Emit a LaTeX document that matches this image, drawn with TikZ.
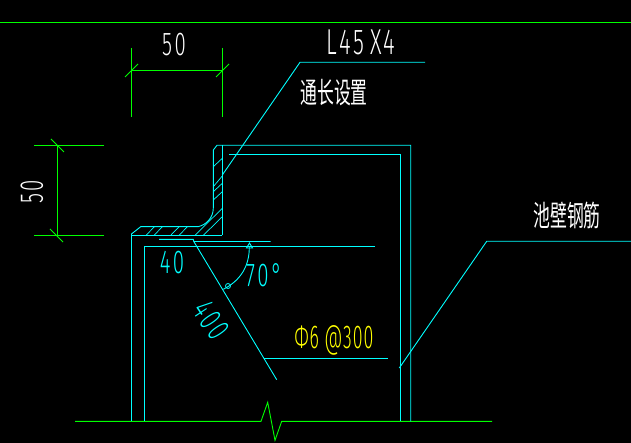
\documentclass[tikz,border=0pt]{standalone}
\usepackage{fontspec}
\setmainfont[FakeStretch=0.62,LetterSpace=8]{Fira Sans Light}
\newfontfamily\cadnarrow[FakeStretch=0.54,LetterSpace=3]{Fira Sans Light}
\newfontfamily\cjk[FakeStretch=0.58]{Noto Sans CJK SC}

\definecolor{cadcyan}{RGB}{0,255,255}
\definecolor{cadgreen}{RGB}{0,255,0}
\definecolor{cadyellow}{RGB}{255,255,0}

\tikzstyle{c} = [draw=cadcyan, line width=0.9pt]
\tikzstyle{g} = [draw=cadgreen, line width=0.9pt]
\tikzstyle{lbl} = [inner sep=0pt, font=\fontsize{33}{33}\selectfont]
\tikzstyle{zh} = [inner sep=0pt, text=white, font=\cjk\fontsize{29}{29}\selectfont]

\begin{document}
\begin{tikzpicture}[x=1pt,y=-1pt]
\fill[black] (0,0) rectangle (631,443);
\useasboundingbox (0,0) rectangle (631,443);

% green lines
\draw[g] (0,22) -- (631,22);
\draw[g] (75,421.3) -- (261,421.3) -- (267.7,402.3) -- (275,440.3) -- (281.7,421.3) -- (492,421.3);

% dimension top
\draw[g] (131.5,48) -- (131.5,117);
\draw[g] (222.3,48) -- (222.3,117);
\draw[g] (131.5,70) -- (222.3,70);
\draw[g] (125,77) -- (138,64);
\draw[g] (216,77) -- (229,64);
\node[lbl, text=white] (dimtop) at (174,45) {50};

% dimension left
\draw[g] (34,145.3) -- (104,145.3);
\draw[g] (34,235.3) -- (104,235.3);
\draw[g] (57.3,145.3) -- (57.3,235.3);
\draw[g] (51,139) -- (64,152);
\draw[g] (50,229) -- (63,242);
\node[lbl, text=white, rotate=90] (dimleft) at (32,192) {50};

% angle section
\draw[c] (222.3,235.3) -- (131.5,235.3) -- (131.5,421.3);
\draw[c] (131.5,235.3) -- (131.5,234) -- (140.7,226.7) -- (198,226.7)
  .. controls (206,225) and (213.3,218) .. (213.3,208) -- (213.3,150) -- (217,145.3) -- (410.7,145.3) -- (410.7,421.3);
\draw[c] (222.3,145.3) -- (222.3,235.3);
\foreach \x in {146,154,170.7,179}
  \draw[c, line width=0.7pt] (\x,235.3) -- ++(8.5,-8.6);
\foreach \y/\d in {166.7/8.4,186.7/10.7,191.7/8.4,200/8.3}
  \draw[c, line width=0.7pt] (213.3,\y) -- ++(9,-\d);
\draw[c, line width=0.7pt] (195,235.3) -- (222.3,208.3);
\draw[c, line width=0.7pt] (203.3,235.3) -- (222.3,216.7);

% inner bars
\draw[c] (229,154.3) -- (400.4,154.3) -- (400.4,421.3);
\draw[c] (375,246.3) -- (144.7,246.3) -- (144.7,421.3);
\draw[c] (159,239.4) -- (193.3,239.4) -- (193.8,241.5) -- (270.7,241.5);
\coordinate (bartop) at (193.8,241.5);
\coordinate (barend) at (276.7,379.7);
\coordinate (barhook) at (264,358.3);
\draw[c] (bartop) -- (barend);
\draw[c] (barhook) -- (387.7,358.3);

% angle mark
\coordinate (arctop) at (249.3,246);
\coordinate (arcend) at (223.3,289.3);
\draw[c] (arctop) to[bend left=32] (arcend);
\draw[c] (246.5,248) -- (249.5,243) -- (252.5,248) -- cycle;
\node[circle, draw=cadcyan, line width=0.8pt, inner sep=0pt, minimum size=5pt] (arcdot) at (228,286) {};

% leaders
\coordinate (angleleader) at (222.3,175);
\coordinate (wallleader) at (399.3,368);
\draw[c] (angleleader) -- (300,62.3) -- (425,62.3);
\draw[c] (wallleader) -- (486.7,241.3) -- (631,241.3);

% texts
\node[lbl, text=white, font=\fontsize{36}{36}\selectfont] (anglelabel) at (361,42) {L45\,X4};
\node[zh] (anglenote) at (334,93) {通长设置};
\node[zh] (walllabel) at (567,215) {池壁钢筋};
\node[lbl, text=cadcyan] (barforty) at (172,263) {40};
\node[lbl, text=cadcyan] (angletext) at (264,275) {70°};
\node[lbl, text=cadcyan, rotate=-56] (barlen) at (211,320) {400};
\node[lbl, text=cadyellow, font=\cadnarrow\fontsize{33}{33}\selectfont] (barspec) at (334,340) {Φ6\,@300};
\end{tikzpicture}
\end{document}
